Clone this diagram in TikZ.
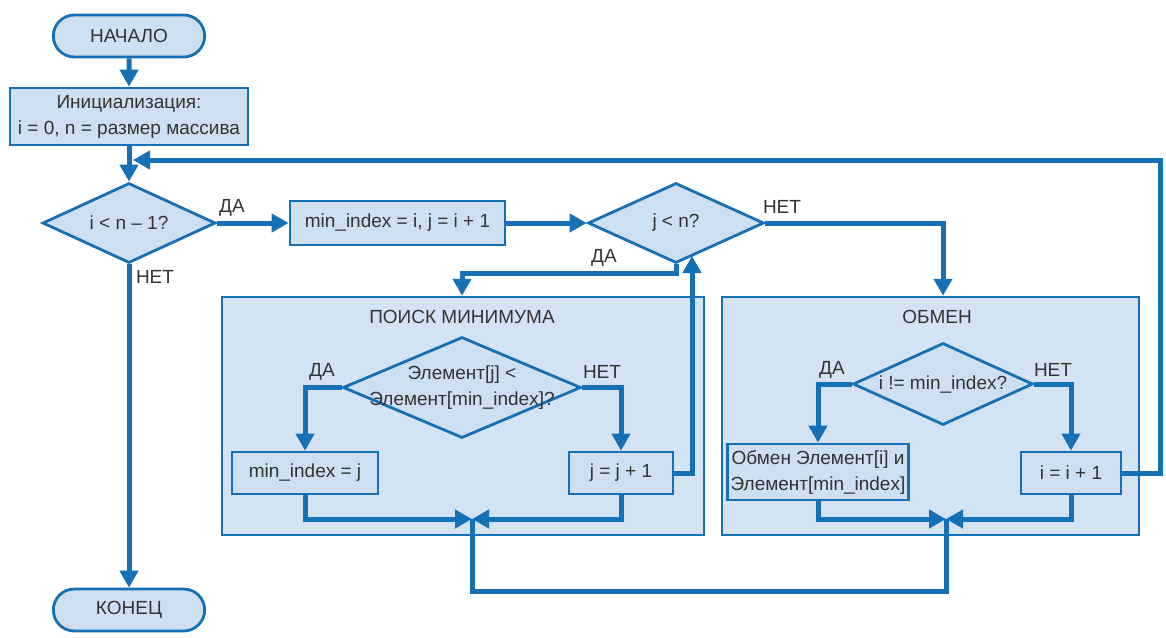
\documentclass[tikz,border=0pt]{standalone}
\usepackage{fontspec}
\setmainfont{Liberation Sans}
\usetikzlibrary{arrows.meta,shapes.geometric,shapes.misc}
\definecolor{fcblue}{HTML}{1670B5}
\definecolor{fcfill}{HTML}{CDDFF1}
\definecolor{fcpanel}{HTML}{D3E3F3}
\begin{document}
\begin{tikzpicture}[
    x=1pt, y=-1pt,
    font=\fontsize{19}{26}\selectfont,
    every node/.style={text=black!80},
    term/.style={rounded rectangle, draw=fcblue, line width=2.8pt, fill=fcfill,
      minimum width=158pt, minimum height=42pt},
    proc/.style={rectangle, draw=fcblue, line width=2.8pt, fill=fcfill, align=center, inner sep=0pt},
    decision/.style={diamond, draw=fcblue, line width=2.8pt, fill=fcfill, inner sep=0pt},
    panel/.style={rectangle, draw=fcblue, line width=2.5pt, fill=fcpanel, inner sep=0pt},
    flow/.style={draw=fcblue, line width=5pt, -{Triangle[length=17pt,width=18pt]}},
    link/.style={draw=fcblue, line width=5pt}
  ]
  \useasboundingbox (0,0) rectangle (1166,637);

  % panels
  \node[panel, minimum width=482pt, minimum height=238pt] (search) at (463,416) {};
  \node[panel, minimum width=417pt, minimum height=238pt] (swap) at (930.5,416) {};
  \node (search-title) at (462,317) {ПОИСК МИНИМУМА};
  \node (swap-title) at (937,317) {ОБМЕН};

  % main line
  \node[term] (start) at (129,36) {НАЧАЛО};
  \node[proc, minimum width=238pt, minimum height=57pt] (init) at (129,116.5)
    {Инициализация:\\i = 0, n = размер массива};
  \node[decision, minimum width=173pt, minimum height=80pt] (outer) at (129,223) {};
  \node (outer-text) at (outer) {i < n – 1?};
  \node[proc, minimum width=215pt, minimum height=44pt] (setidx) at (397.5,223)
    {min\_index = i, j = i + 1};
  \node[decision, minimum width=176pt, minimum height=80pt] (inner) at (676,223) {};
  \node (inner-text) at (inner) {j < n?};
  \node[term] (end) at (129,610) {КОНЕЦ};

  % search block
  \node[decision, minimum width=238pt, minimum height=101pt] (cmp) at (462,387.5) {};
  \node[align=center] (cmp-text) at (cmp) {Элемент[j] <\\Элемент[min\_index]?};
  \node[proc, minimum width=146pt, minimum height=42pt] (setmin) at (305,473) {min\_index = j};
  \node[proc, minimum width=104pt, minimum height=42pt] (incj) at (621,473) {j = j + 1};

  % swap block
  \node[decision, minimum width=180pt, minimum height=82pt] (neq) at (943,384) {};
  \node (neq-text) at (neq) {i != min\_index?};
  \node[proc, minimum width=181pt, minimum height=56pt] (doswap) at (818,472)
    {Обмен Элемент[i] и\\Элемент[min\_index]};
  \node[proc, minimum width=100pt, minimum height=42pt] (inci) at (1071,473) {i = i + 1};

  \coordinate (merge1) at (472,519);
  \coordinate (merge2) at (946,519);
  \coordinate (back) at (1160,160);
  \coordinate (join) at (133,160);
  \coordinate (jret) at (692,256);

  % connectors
  \draw[flow] (start) -- (init);
  \draw[flow] (init) -- (outer);
  \draw[flow] (outer.east) -- (setidx.west);
  \draw[flow] (setidx.east) -- (inner.west);
  \draw[flow] (outer.south) -- (end.north);
  \draw[flow] (inner.east) -| (swap.north -| neq);
  \draw[flow] (inner.south) -- ++(0,9) -| (search.north -| cmp);
  \draw[flow] (cmp.west) -| (setmin.north);
  \draw[flow] (cmp.east) -| (incj.north);
  \draw[flow] (incj.east) -| (jret);
  \draw[flow] (setmin.south) |- (merge1);
  \draw[flow] (incj.south) |- (merge1);
  \draw[flow] (neq.west) -| (doswap.north);
  \draw[flow] (neq.east) -| (inci.north);
  \draw[flow] (doswap.south) |- (merge2);
  \draw[flow] (inci.south) |- (merge2);
  \draw[flow] (inci.east) -| (back) -- (join);
  \draw[link] (merge1) -- (merge1 |- 0,591) -| (merge2);

  % labels
  \node (yes-outer) at (232,208) {ДА};
  \node (no-outer) at (155,277) {НЕТ};
  \node (no-inner) at (782,207) {НЕТ};
  \node (yes-inner) at (604,258) {ДА};
  \node (yes-cmp) at (322,372) {ДА};
  \node (no-cmp) at (602,372) {НЕТ};
  \node (yes-neq) at (832,370) {ДА};
  \node (no-neq) at (1053,370) {НЕТ};
\end{tikzpicture}
\end{document}
